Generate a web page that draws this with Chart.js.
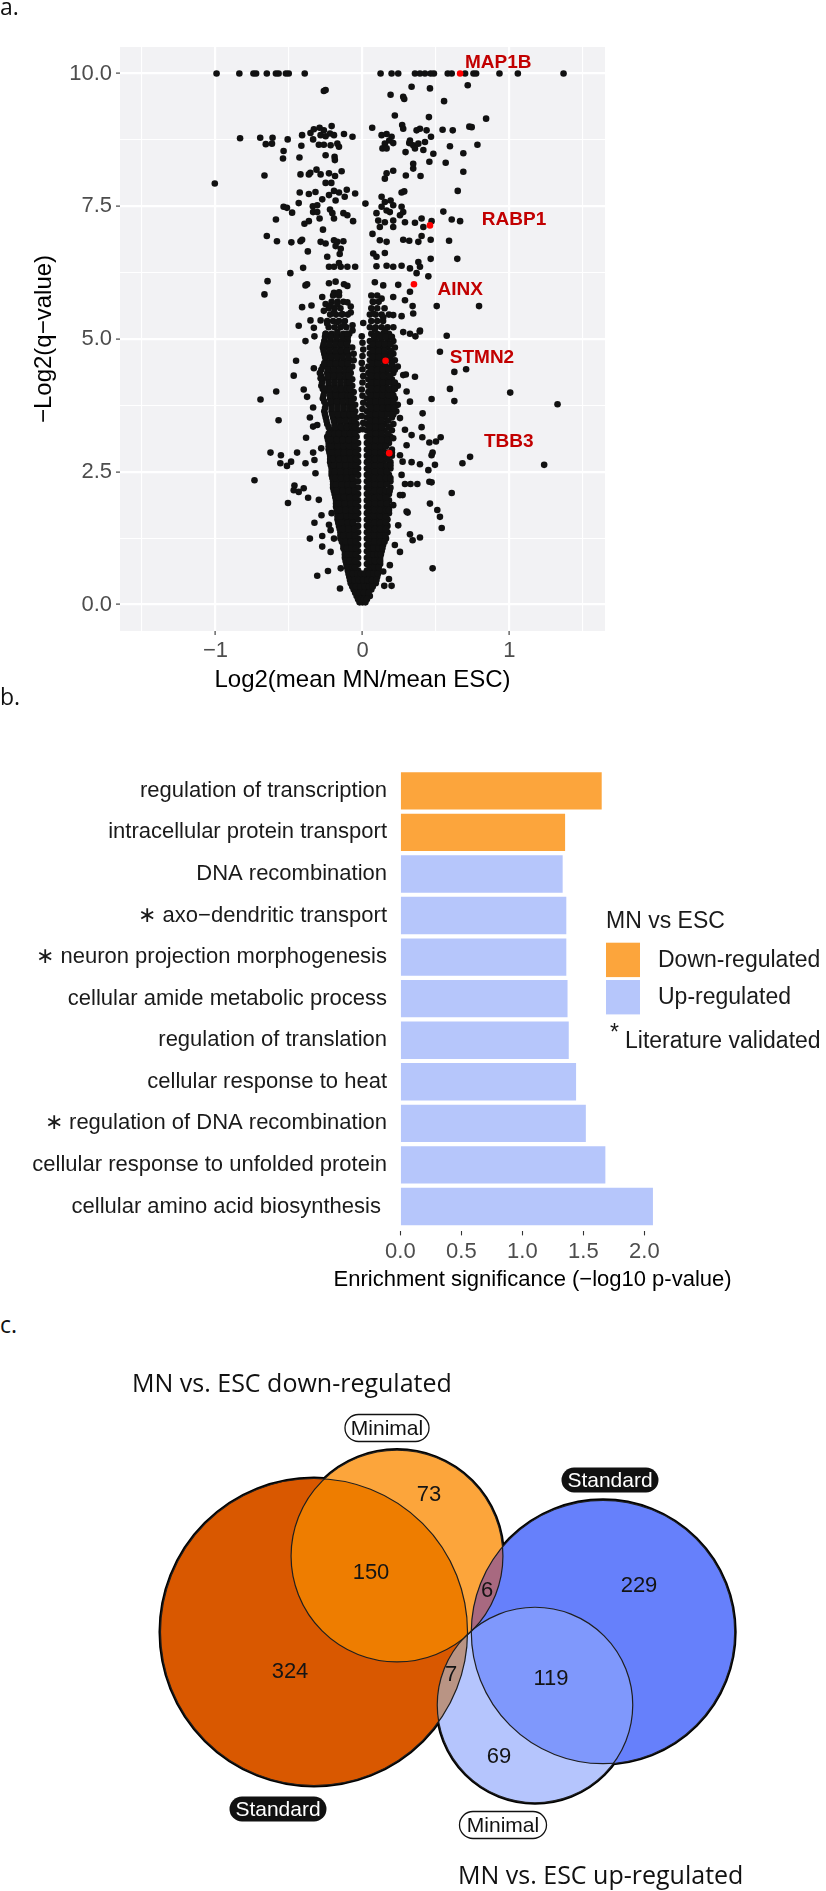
<!DOCTYPE html>
<html>
<head>
<meta charset="utf-8">
<script src="https://cdn.jsdelivr.net/npm/chart.js@4.4.0/dist/chart.umd.min.js"></script>
<style>
  body { margin: 0; background: #fff; }
  #page { position: relative; width: 826px; height: 1891px; overflow: hidden; background: #fff; }
  canvas { position: absolute; }
  .tag { position: absolute; font-family: 'Open Sans', sans-serif; font-size: 23px; line-height: 1; color: #111; }
  .vtitle { position: absolute; font-family: 'Open Sans', sans-serif; font-size: 25px; line-height: 1; color: #111; white-space: nowrap; }
</style>
</head>
<body>
<div id="page">
  <canvas id="volcano" width="620" height="700" style="left:0;top:0"></canvas>
  <canvas id="goBars" width="826" height="600" style="left:0;top:700px"></canvas>
  <canvas id="venn" width="826" height="551" style="left:0;top:1340px"></canvas>
  <div class="tag" style="left:0;top:-5px">a.</div>
  <div class="tag" style="left:0;top:685px">b.</div>
  <div class="tag" style="left:0;top:1313px">c.</div>
  <div class="vtitle" style="left:132px;top:1370px">MN vs. ESC down-regulated</div>
  <div class="vtitle" style="left:458px;top:1862px">MN vs. ESC up-regulated</div>
</div>
<script>
/* ===============================
   Data
================================ */
// a. volcano: axis ticks
const xMajor = [-1, 0, 1];
const xMinor = [-1.5, -0.5, 0.5, 1.5];
const yMajor = [0, 2.5, 5, 7.5, 10];
const yMinor = [1.25, 3.75, 6.25, 8.75];

// highlighted genes (red points) and where their names sit
const geneNames = ["MAP1B", "RABP1", "AINX", "STMN2", "TBB3"];
const geneX = [0.664, 0.459, 0.350, 0.157, 0.182];
const geneY = [10.0, 7.14, 6.03, 4.59, 2.85];
const geneLabelX = [0.924, 1.031, 0.665, 0.813, 0.995];
const geneLabelY = [10.2, 7.25, 5.93, 4.65, 3.07];

// dense core of the volcano, read row by row: [y, x values]
const coreRows = [
  [0.04, [-0.02, 0, 0.02]],
  [0.16, [-0.04, -0.01, 0.02, 0.05]],
  [0.28, [-0.06, -0.03, 0, 0.03, 0.06]],
  [0.40, [-0.08, -0.05, -0.02, 0.01, 0.04, 0.07, 0.09]],
  [0.52, [-0.09, -0.06, -0.03, 0, 0.03, 0.06, 0.10]],
  [0.64, [-0.10, -0.07, -0.03, 0.03, 0.06, 0.09, 0.11]],
  [0.76, [-0.11, -0.07, -0.03, 0.03, 0.07, 0.10, 0.12]],
  [0.88, [-0.12, -0.08, -0.05, -0.03, 0.03, 0.06, 0.09, 0.12]],
  [1.00, [-0.12, -0.09, -0.06, -0.03, 0.03, 0.06, 0.09, 0.13]],
  [1.12, [-0.13, -0.10, -0.06, -0.03, 0.03, 0.06, 0.10, 0.14]],
  [1.24, [-0.15, -0.11, -0.07, -0.03, 0.03, 0.06, 0.10, 0.13, 0.16]],
  [1.36, [-0.15, -0.11, -0.07, -0.03, 0.03, 0.07, 0.10, 0.14, 0.17]],
  [1.48, [-0.16, -0.12, -0.08, -0.05, -0.03, 0.03, 0.06, 0.10, 0.14, 0.17]],
  [1.60, [-0.17, -0.13, -0.09, -0.06, -0.03, 0.03, 0.06, 0.10, 0.14, 0.17]],
  [1.72, [-0.17, -0.13, -0.09, -0.06, -0.03, 0.03, 0.06, 0.10, 0.14, 0.18]],
  [1.84, [-0.18, -0.14, -0.10, -0.06, -0.03, 0.03, 0.06, 0.10, 0.14, 0.18]],
  [1.96, [-0.18, -0.14, -0.10, -0.06, -0.03, 0.03, 0.07, 0.11, 0.15, 0.18]],
  [2.08, [-0.19, -0.15, -0.11, -0.07, -0.03, 0.03, 0.06, 0.10, 0.14, 0.18]],
  [2.20, [-0.20, -0.16, -0.12, -0.08, -0.05, -0.03, 0.03, 0.06, 0.10, 0.14, 0.19]],
  [2.32, [-0.20, -0.16, -0.12, -0.08, -0.05, -0.03, 0.03, 0.07, 0.11, 0.15, 0.19]],
  [2.44, [-0.21, -0.17, -0.13, -0.09, -0.06, -0.03, 0.03, 0.06, 0.10, 0.14, 0.18]],
  [2.56, [-0.21, -0.17, -0.13, -0.09, -0.06, -0.03, 0.03, 0.07, 0.11, 0.15, 0.19]],
  [2.68, [-0.22, -0.18, -0.14, -0.10, -0.06, -0.03, 0.03, 0.06, 0.10, 0.14, 0.19]],
  [2.80, [-0.22, -0.18, -0.14, -0.10, -0.06, -0.03, 0.03, 0.07, 0.11, 0.15, 0.20]],
  [2.92, [-0.23, -0.19, -0.15, -0.11, -0.07, -0.03, 0.03, 0.06, 0.10, 0.14, 0.20]],
  [3.04, [-0.23, -0.19, -0.15, -0.11, -0.07, -0.03, 0.03, 0.07, 0.11, 0.15, 0.18]],
  [3.16, [-0.24, -0.20, -0.16, -0.12, -0.08, -0.04, 0.03, 0.07, 0.11, 0.15, 0.19]],
  [3.28, [-0.22, -0.18, -0.14, -0.10, -0.07, -0.03, 0.03, 0.07, 0.11, 0.15, 0.20]],
  [3.40, [-0.24, -0.19, -0.15, -0.11, -0.07, -0.04, 0.03, 0.07, 0.11, 0.15, 0.21]],
  [3.52, [-0.25, -0.20, -0.16, -0.12, -0.08, -0.04, 0.03, 0.07, 0.11, 0.15, 0.20]],
  [3.64, [-0.26, -0.21, -0.17, -0.13, -0.09, -0.05, 0.03, 0.07, 0.11, 0.15, 0.19, 0.23]],
  [3.76, [-0.25, -0.21, -0.17, -0.13, -0.09, -0.05, 0.04, 0.08, 0.12, 0.16, 0.20, 0.24]],
  [3.88, [-0.27, -0.22, -0.18, -0.14, -0.10, -0.06, 0.03, 0.07, 0.11, 0.15, 0.19, 0.22]],
  [4.00, [-0.26, -0.22, -0.18, -0.14, -0.10, -0.06, 0.04, 0.08, 0.12, 0.16, 0.20]],
  [4.12, [-0.28, -0.23, -0.19, -0.15, -0.11, -0.07, 0.04, 0.08, 0.12, 0.16, 0.21, 0.24]],
  [4.24, [-0.27, -0.23, -0.19, -0.15, -0.11, -0.07, 0.04, 0.08, 0.12, 0.16, 0.20]],
  [4.36, [-0.29, -0.24, -0.20, -0.16, -0.12, -0.08, 0.04, 0.08, 0.12, 0.16, 0.21]],
  [4.48, [-0.27, -0.23, -0.19, -0.15, -0.11, -0.07, 0.04, 0.08, 0.12, 0.16, 0.20, 0.24]],
  [4.60, [-0.25, -0.21, -0.17, -0.13, -0.09, -0.06, 0.05, 0.09, 0.13, 0.18, 0.22]],
  [4.72, [-0.26, -0.22, -0.18, -0.14, -0.10, -0.06, 0.05, 0.09, 0.13, 0.17, 0.21]],
  [4.84, [-0.27, -0.23, -0.19, -0.15, -0.11, -0.07, 0.05, 0.09, 0.13, 0.17, 0.22]],
  [4.96, [-0.26, -0.22, -0.18, -0.14, -0.10, 0.05, 0.09, 0.13, 0.17, 0.21]],
  [5.10, [-0.25, -0.21, -0.17, -0.13, -0.09, 0.06, 0.10, 0.14, 0.18]],
  [5.22, [-0.23, -0.19, -0.15, -0.11, 0.05, 0.09, 0.13, 0.17, 0.21]],
  [5.34, [-0.24, -0.20, -0.16, -0.12, 0.06, 0.10, 0.14]],
  [5.46, [-0.22, -0.18, -0.14, -0.10, 0.05, 0.09, 0.13, 0.18]],
  [5.58, [-0.23, -0.19, -0.15, 0.06, 0.10, 0.15]],
  [5.70, [-0.21, -0.17, -0.13, 0.07, 0.11]],
  [5.82, [-0.20, -0.16, 0.06, 0.10]],
];

// second pass over the core, between the rows above
const coreRowsB = [
  [0.10, [-0.03, -0.01, 0.01, 0.03]],
  [0.22, [-0.05, -0.02, 0.01, 0.04]],
  [0.34, [-0.07, -0.045, -0.015, 0.015, 0.045, 0.07]],
  [0.46, [-0.085, -0.055, -0.025, 0.005, 0.035, 0.065, 0.095]],
  [0.58, [-0.095, -0.065, -0.035, -0.01, 0.015, 0.045, 0.075, 0.105]],
  [0.70, [-0.105, -0.07, -0.05, 0.05, 0.08, 0.11]],
  [0.82, [-0.115, -0.09, -0.05, 0.05, 0.085, 0.12]],
  [0.94, [-0.12, -0.10, -0.07, -0.045, 0.045, 0.075, 0.105, 0.125]],
  [1.06, [-0.13, -0.105, -0.075, -0.045, 0.045, 0.075, 0.11, 0.135]],
  [1.18, [-0.14, -0.115, -0.08, -0.045, 0.045, 0.08, 0.12, 0.15]],
  [1.30, [-0.15, -0.13, -0.09, -0.05, 0.045, 0.08, 0.12, 0.155]],
  [1.42, [-0.155, -0.135, -0.095, -0.055, 0.045, 0.085, 0.12, 0.16]],
  [1.54, [-0.165, -0.14, -0.10, -0.065, 0.045, 0.08, 0.12, 0.16]],
  [1.66, [-0.17, -0.15, -0.11, -0.075, -0.045, 0.045, 0.08, 0.12, 0.16]],
  [1.78, [-0.175, -0.155, -0.115, -0.075, -0.045, 0.045, 0.08, 0.12, 0.16, 0.18]],
  [1.90, [-0.18, -0.16, -0.12, -0.08, -0.045, 0.045, 0.085, 0.125, 0.165]],
  [2.02, [-0.185, -0.165, -0.125, -0.085, -0.045, 0.045, 0.085, 0.12, 0.16]],
  [2.14, [-0.195, -0.175, -0.135, -0.095, -0.055, 0.045, 0.08, 0.12, 0.16, 0.185]],
  [2.26, [-0.20, -0.18, -0.14, -0.10, -0.065, 0.045, 0.085, 0.125, 0.165]],
  [2.38, [-0.205, -0.185, -0.145, -0.105, -0.07, 0.045, 0.08, 0.12, 0.16, 0.19]],
  [2.50, [-0.21, -0.19, -0.15, -0.11, -0.075, -0.045, 0.045, 0.085, 0.125, 0.165]],
  [2.62, [-0.215, -0.195, -0.155, -0.115, -0.075, -0.045, 0.045, 0.085, 0.125, 0.165, 0.19]],
  [2.74, [-0.22, -0.20, -0.16, -0.12, -0.08, -0.045, 0.045, 0.085, 0.125, 0.17]],
  [2.86, [-0.225, -0.205, -0.165, -0.125, -0.085, -0.045, 0.045, 0.085, 0.125, 0.17, 0.20]],
  [2.98, [-0.23, -0.21, -0.17, -0.13, -0.09, -0.05, 0.045, 0.085, 0.125, 0.16]],
  [3.10, [-0.235, -0.215, -0.175, -0.135, -0.095, -0.055, 0.05, 0.09, 0.13, 0.17]],
  [3.22, [-0.23, -0.19, -0.16, -0.12, -0.085, -0.05, 0.05, 0.09, 0.13, 0.175]],
  [3.34, [-0.23, -0.185, -0.145, -0.105, -0.07, -0.05, 0.05, 0.09, 0.13, 0.18]],
  [3.46, [-0.245, -0.195, -0.155, -0.115, -0.075, -0.055, 0.05, 0.09, 0.13, 0.175]],
  [3.58, [-0.255, -0.205, -0.165, -0.125, -0.085, -0.06, 0.05, 0.09, 0.13, 0.17, 0.21]],
  [3.70, [-0.255, -0.21, -0.17, -0.13, -0.09, -0.07, 0.055, 0.095, 0.135, 0.175, 0.215]],
  [3.82, [-0.26, -0.215, -0.175, -0.135, -0.095, -0.075, 0.05, 0.09, 0.13, 0.17, 0.21]],
  [3.94, [-0.265, -0.22, -0.18, -0.14, -0.10, -0.08, 0.055, 0.095, 0.135, 0.175, 0.21]],
  [4.06, [-0.27, -0.225, -0.185, -0.145, -0.105, -0.085, 0.06, 0.10, 0.14, 0.18, 0.22]],
  [4.18, [-0.275, -0.23, -0.19, -0.15, -0.11, -0.09, 0.06, 0.10, 0.14, 0.18, 0.22]],
  [4.30, [-0.28, -0.235, -0.195, -0.155, -0.115, -0.095, 0.06, 0.10, 0.14, 0.185]],
  [4.42, [-0.28, -0.235, -0.195, -0.155, -0.115, -0.09, 0.06, 0.10, 0.14, 0.18, 0.22]],
  [4.54, [-0.26, -0.22, -0.18, -0.14, -0.10, 0.065, 0.105, 0.15, 0.20]],
  [4.66, [-0.255, -0.215, -0.175, -0.135, -0.095, 0.07, 0.11, 0.15, 0.19]],
  [4.78, [-0.265, -0.225, -0.185, -0.145, -0.105, 0.07, 0.11, 0.15, 0.195]],
  [4.90, [-0.265, -0.225, -0.185, -0.145, -0.105, 0.07, 0.11, 0.15, 0.19]],
  [5.04, [-0.255, -0.215, -0.175, -0.135, -0.10, 0.08, 0.12, 0.16, 0.20]],
];

// scattered proteins outside the core: [x, y]
const scatterPts = [
  // y = 10 ceiling, left
  [-0.993, 10], [-0.838, 10], [-0.742, 10], [-0.724, 10], [-0.651, 10], [-0.589, 10], [-0.571, 10], [-0.521, 10], [-0.502, 10], [-0.393, 10],
  [-0.263, 9.67], [-0.251, 9.69],
  [-0.833, 8.78], [-0.696, 8.79], [-0.612, 8.79], [-0.658, 8.67], [-0.616, 8.68], [-0.509, 8.76], [-0.411, 8.84], [-0.416, 8.64], [-0.537, 8.54], [-0.541, 8.40], [-0.429, 8.42],
  [-0.354, 8.88], [-0.331, 8.95], [-0.292, 8.98], [-0.263, 8.93], [-0.210, 9.01], [-0.285, 8.84], [-0.251, 8.82], [-0.221, 8.87], [-0.194, 8.84], [-0.336, 8.76], [-0.297, 8.66], [-0.263, 8.66], [-0.217, 8.65], [-0.171, 8.68], [-0.160, 8.62], [-0.126, 8.86], [-0.068, 8.81],
  [-0.251, 8.46], [-0.190, 8.43], [-0.188, 8.37],
  [-0.667, 8.08], [-0.422, 8.10], [-0.365, 8.10], [-0.355, 8.13], [-0.313, 8.19], [-0.285, 8.10], [-0.228, 8.12], [-0.187, 8.07], [-0.142, 8.16], [-0.251, 7.94], [-0.212, 7.94],
  [-1.005, 7.93],
  [-0.427, 7.76], [-0.365, 7.73], [-0.320, 7.77], [-0.274, 7.63], [-0.228, 7.71], [-0.194, 7.79], [-0.160, 7.76], [-0.107, 7.81], [-0.050, 7.74], [-0.121, 7.68], [-0.183, 7.61],
  [-0.434, 7.56], [-0.537, 7.49], [-0.514, 7.47], [-0.479, 7.38], [-0.338, 7.50], [-0.308, 7.52], [-0.336, 7.39], [-0.308, 7.39], [-0.221, 7.44], [-0.205, 7.37], [-0.194, 7.27], [-0.130, 7.37], [-0.103, 7.33], [-0.064, 7.22],
  [-0.589, 7.25], [-0.395, 7.17], [-0.365, 7.22], [-0.292, 7.27], [-0.269, 7.06],
  [-0.651, 6.94], [-0.582, 6.84], [-0.484, 6.82], [-0.422, 6.84], [-0.411, 6.87], [-0.372, 6.65], [-0.285, 6.83], [-0.251, 6.80], [-0.194, 6.86], [-0.171, 6.83], [-0.130, 6.84], [-0.183, 6.75], [-0.148, 6.70],
  [-0.240, 6.55], [-0.155, 6.60],
  [-0.491, 6.24], [-0.404, 6.34], [-0.228, 6.36], [-0.194, 6.36], [-0.148, 6.36], [-0.103, 6.36], [-0.050, 6.36], [-0.160, 6.43],
  [-0.646, 6.09], [-0.667, 5.84], [-0.388, 6.01], [-0.377, 6.03], [-0.228, 6.05], [-0.183, 6.08], [-0.126, 6.03], [-0.103, 6.00], [-0.194, 5.87], [-0.160, 5.88],
  [-0.274, 5.79], [-0.411, 5.60], [-0.347, 5.63], [-0.251, 5.66], [-0.217, 5.63], [-0.171, 5.66], [-0.103, 5.69], [-0.080, 5.61], [-0.263, 5.53], [-0.194, 5.50], [-0.137, 5.47], [-0.080, 5.50],
  [-0.354, 5.35], [-0.331, 5.21], [-0.434, 5.25], [-0.285, 5.35], [-0.240, 5.29], [-0.171, 5.32], [-0.126, 5.26], [-0.068, 5.26], [-0.251, 5.10], [-0.171, 5.13], [-0.103, 5.10], [-0.068, 5.16], [-0.327, 5.05], [-0.388, 4.96],
  // y = 10 ceiling, right
  [0.123, 10], [0.198, 10], [0.243, 10], [0.357, 10], [0.391, 10], [0.425, 10], [0.464, 10], [0.486, 10], [0.580, 10], [0.607, 10], [0.698, 10], [0.755, 10], [0.773, 10], [0.932, 10], [1.057, 10], [1.368, 10],
  [0.716, 9.78], [0.334, 9.75], [0.459, 9.72], [0.191, 9.60], [0.277, 9.56], [0.284, 9.52], [0.555, 9.48],
  [0.220, 9.21], [0.452, 9.18], [0.841, 9.15],
  [0.066, 8.98], [0.270, 9.03], [0.277, 8.96], [0.391, 8.96], [0.368, 8.93], [0.436, 8.93], [0.545, 8.94], [0.614, 8.93], [0.727, 9.00], [0.743, 8.99],
  [0.130, 8.84], [0.164, 8.86], [0.198, 8.81], [0.182, 8.74], [0.152, 8.68], [0.209, 8.69], [0.136, 8.59], [0.164, 8.59],
  [0.323, 8.74], [0.345, 8.65], [0.380, 8.68], [0.425, 8.71], [0.466, 8.81], [0.357, 8.59], [0.414, 8.56], [0.318, 8.69],
  [0.595, 8.63], [0.782, 8.66], [0.686, 8.50], [0.482, 8.49], [0.293, 8.52], [0.455, 8.34], [0.566, 8.32], [0.345, 8.30], [0.345, 8.21],
  [0.164, 8.12], [0.209, 8.17], [0.152, 8.02], [0.295, 8.08], [0.395, 8.07], [0.686, 8.15],
  [0.648, 7.79], [0.266, 7.76], [0.284, 7.78],
  [0.020, 7.55], [0.130, 7.68], [0.152, 7.58], [0.191, 7.61], [0.209, 7.52], [0.164, 7.42], [0.130, 7.49], [0.186, 7.39], [0.266, 7.49], [0.277, 7.39], [0.255, 7.33],
  [0.095, 7.37], [0.107, 7.23], [0.152, 7.20], [0.209, 7.23], [0.118, 7.11], [0.209, 7.11], [0.289, 7.20], [0.357, 7.19], [0.402, 7.27], [0.414, 7.11], [0.470, 7.22], [0.550, 7.40], [0.607, 7.25], [0.664, 7.22],
  [0.068, 6.98], [0.118, 6.86], [0.164, 6.83], [0.277, 6.87], [0.318, 6.85], [0.380, 6.83], [0.402, 6.94], [0.464, 6.87], [0.589, 6.85], [0.073, 6.61], [0.152, 6.62], [0.095, 6.55],
  [0.464, 6.51], [0.645, 6.51], [0.380, 6.45],
  [0.095, 6.37], [0.164, 6.38], [0.209, 6.36], [0.266, 6.38], [0.323, 6.33], [0.391, 6.36], [0.368, 6.24], [0.448, 6.18],
  [0.084, 6.07], [0.141, 6.01], [0.243, 6.02], [0.323, 5.89],
  [0.073, 5.70], [0.130, 5.76], [0.209, 5.79], [0.289, 5.73], [0.341, 5.62], [0.505, 5.62], [0.793, 5.62],
  [0.073, 5.48], [0.141, 5.41], [0.209, 5.45], [0.266, 5.43], [0.345, 5.48], [0.391, 5.16], [0.323, 5.10], [0.573, 5.06], [0.277, 5.13], [0.152, 5.16], [0.084, 5.19], [0.360, 5.05], [0.390, 5.14],
  // along the middle of the upper core
  [0.0, 3.30], [0.005, 3.42], [-0.005, 3.55], [0.0, 3.68], [0.005, 3.80], [0.0, 3.93], [-0.005, 4.05], [0.0, 4.18], [0.005, 4.30], [0.0, 4.43],
  [-0.005, 4.55], [0.0, 4.68], [0.005, 4.80], [0.0, 4.93], [-0.005, 5.05], [0.005, 5.30],
  // lower left
  [-0.452, 4.59], [-0.468, 4.31], [-0.331, 4.45], [-0.587, 4.01], [-0.694, 3.86], [-0.400, 4.05], [-0.377, 3.91], [-0.571, 3.47], [-0.336, 3.71], [-0.358, 3.52], [-0.336, 3.35], [-0.384, 3.14],
  [-0.626, 2.86], [-0.555, 2.81], [-0.559, 2.66], [-0.514, 2.61], [-0.486, 2.69], [-0.445, 2.86], [-0.388, 2.66], [-0.336, 2.86], [-0.327, 2.72], [-0.735, 2.34],
  [-0.463, 2.24], [-0.468, 2.15], [-0.434, 2.12], [-0.400, 2.19], [-0.507, 1.91], [-0.320, 2.47], [-0.370, 2.01], [-0.327, 1.54], [-0.358, 1.24], [-0.274, 1.29], [-0.274, 1.09],
  [-0.217, 0.99], [-0.308, 0.54], [-0.235, 0.63], [-0.153, 0.30],
  [-0.297, 1.97], [-0.279, 1.68], [-0.210, 1.72], [-0.228, 1.50], [-0.194, 1.24], [-0.148, 0.68], [-0.217, 1.40], [-0.285, 4.26], [-0.263, 4.07], [-0.308, 3.38], [-0.281, 2.94],
  // lower right
  [0.527, 4.76], [0.625, 4.38], [0.705, 4.43], [0.357, 4.29], [0.295, 4.33], [0.595, 4.06], [1.005, 3.99], [0.470, 3.87], [0.625, 3.83], [1.327, 3.77],
  [0.409, 3.60], [0.402, 3.34], [0.334, 3.19], [0.407, 3.15], [0.455, 3.05], [0.500, 3.07], [0.532, 3.15], [0.470, 2.81], [0.477, 2.86], [0.732, 2.78], [0.680, 2.66], [1.236, 2.63],
  [0.493, 2.63], [0.391, 2.64], [0.334, 2.68], [0.273, 2.69], [0.266, 2.44], [0.448, 2.53], [0.255, 2.81], [0.455, 2.31], [0.470, 2.30], [0.289, 2.27], [0.327, 2.27], [0.373, 2.27],
  [0.607, 2.10], [0.273, 2.06], [0.459, 1.90], [0.509, 1.78], [0.527, 1.65], [0.539, 1.44], [0.307, 1.73], [0.323, 1.32], [0.341, 1.21], [0.391, 1.26], [0.477, 0.68],
  [0.180, 0.48], [0.148, 0.35], [0.198, 0.35],
  [0.277, 4.32], [0.300, 4.01], [0.323, 3.82], [0.255, 3.51], [0.289, 3.29], [0.209, 3.13], [0.300, 3.00], [0.255, 2.06], [0.209, 1.87], [0.300, 1.75], [0.243, 1.49], [0.220, 1.12], [0.255, 0.99], [0.186, 0.74], [0.141, 0.62],
];

// b. GO enrichment
const goTerms = [
  "regulation of transcription",
  "intracellular protein transport",
  "DNA recombination",
  "axo−dendritic transport",
  "neuron projection morphogenesis",
  "cellular amide metabolic process",
  "regulation of translation",
  "cellular response to heat",
  "regulation of DNA recombination",
  "cellular response to unfolded protein",
  "cellular amino acid biosynthesis ",
];
const goScore = [1.65, 1.35, 1.33, 1.36, 1.36, 1.37, 1.38, 1.44, 1.52, 1.68, 2.07];
const goDirection = ["Down", "Down", "Up", "Up", "Up", "Up", "Up", "Up", "Up", "Up", "Up"];
const goValidated = [false, false, false, true, true, false, false, false, true, false, false];
const goTicks = [0, 0.5, 1, 1.5, 2];
const dirNames = ["Down", "Up"];
const dirLabels = ["Down-regulated", "Up-regulated"];
const dirColors = ["#FCA53C", "#B6C6FB"];

// c. Venn: sets and region counts
const vennSets = ["Standard down", "Minimal down", "Standard up", "Minimal up"];
const vennSetTag = ["Standard", "Minimal", "Standard", "Minimal"];
const vennColors = ["#D95800", "#FCA53B", "#6680FB", "#B5C5FD"];
const regionCounts = [324, 150, 73, 6, 7, 229, 119, 69];
const regionSets = [[0], [0, 1], [1], [1, 2], [0, 3], [2], [2, 3], [3]];

/* ===============================
   Layout (page pixels, not data)
================================ */
const vennCenters = [[314, 292], [397, 216], [603, 292], [535, 365]];
const vennAreaScale = 7.0; // radius per sqrt(count)
const regionPos = [[290, 332], [371, 233], [429, 155], [487, 251], [451, 335], [639, 246], [551, 339], [499, 417]];
const tagPos = [[278, 469, 97, 25], [387, 88, 84, 27], [610, 140, 97, 25], [503, 485, 87, 27]];
const overlapFill = [[0, 1, "#EE7D00"], [2, 3, "#7F98FC"], [1, 2, "#A86980"], [0, 3, "#B99484"]];

Chart.defaults.font.family = "'Liberation Sans', Arial, Helvetica, sans-serif";
Chart.defaults.color = "#1a1a1a";

/* ===============================
   a. Volcano plot
================================ */
const blackPts = [];
coreRows.concat(coreRowsB).forEach(([y, xs]) => xs.forEach((x) => blackPts.push({ x, y })));
scatterPts.forEach(([x, y]) => blackPts.push({ x, y }));

const panelBg = {
  id: "panelBg",
  beforeDraw(chart) {
    const { ctx, chartArea: a } = chart;
    ctx.save();
    ctx.fillStyle = "#F2F2F4";
    ctx.fillRect(a.left, a.top, a.right - a.left, a.bottom - a.top);
    ctx.restore();
  },
};

const geneLabels = {
  id: "geneLabels",
  afterDatasetsDraw(chart) {
    const { ctx, scales } = chart;
    ctx.save();
    ctx.fillStyle = "#C20000";
    ctx.font = "bold 19px 'Liberation Sans', Arial, sans-serif";
    ctx.textAlign = "center";
    ctx.textBaseline = "middle";
    geneNames.forEach((g, i) => {
      ctx.fillText(g, scales.x.getPixelForValue(geneLabelX[i]), scales.y.getPixelForValue(geneLabelY[i]));
    });
    ctx.restore();
  },
};

const fmtSigned = (v) => (v < 0 ? "\u2212" + Math.abs(v) : String(v));

function gridStyle(major) {
  return {
    color: "#ffffff",
    lineWidth: (c) => (major.includes(c.tick.value) ? 2.2 : 1.1),
    tickColor: (c) => (major.includes(c.tick.value) ? "#333333" : "rgba(0,0,0,0)"),
    tickLength: 4,
    tickWidth: 1.1,
  };
}

new Chart(document.getElementById("volcano"), {
  type: "scatter",
  data: {
    datasets: [
      {
        data: geneX.map((x, i) => ({ x, y: geneY[i] })),
        pointBackgroundColor: "#FF0000",
        pointBorderWidth: 0,
        pointRadius: 3.3,
      },
      {
        data: blackPts,
        pointBackgroundColor: "#111111",
        pointBorderWidth: 0,
        pointRadius: 3.3,
      },
    ],
  },
  options: {
    responsive: false,
    animation: false,
    events: [],
    layout: { padding: { top: 47, right: 15, left: 0, bottom: 0 } },
    plugins: { legend: { display: false }, tooltip: { enabled: false } },
    scales: {
      x: {
        type: "linear",
        min: -1.65,
        max: 1.65,
        afterBuildTicks: (s) => {
          s.ticks = xMinor.concat(xMajor).sort((a, b) => a - b).map((v) => ({ value: v }));
        },
        afterFit: (s) => { s.height = 69; },
        grid: gridStyle(xMajor),
        border: { display: false },
        ticks: {
          autoSkip: false,
          maxRotation: 0,
          padding: 3,
          color: "#4D4D4D",
          font: { size: 22 },
          callback: (v) => (xMajor.includes(v) ? fmtSigned(v) : ""),
        },
        title: { display: true, text: "Log2(mean MN/mean ESC)", color: "#000", font: { size: 24 }, padding: { bottom: 5.6 } },
      },
      y: {
        type: "linear",
        min: -0.5,
        max: 10.5,
        afterBuildTicks: (s) => {
          s.ticks = yMinor.concat(yMajor).sort((a, b) => a - b).map((v) => ({ value: v }));
        },
        afterFit: (s) => { s.width = 120; },
        grid: gridStyle(yMajor),
        border: { display: false },
        ticks: {
          autoSkip: false,
          padding: 4,
          color: "#4D4D4D",
          font: { size: 22 },
          callback: (v) => (yMajor.includes(v) ? v.toFixed(1) : ""),
        },
        title: { display: true, text: "\u2212Log2(q\u2212value)", color: "#000", font: { size: 24 }, padding: { top: 29.6 } },
      },
    },
  },
  plugins: [panelBg, geneLabels],
});

/* ===============================
   b. GO enrichment bars
================================ */
const goLegend = {
  id: "goLegend",
  afterDraw(chart) {
    const ctx = chart.ctx;
    const sx = chart.scales.x;
    ctx.save();
    // axis title, wider than the plotting area
    ctx.fillStyle = "#000";
    ctx.font = "22px 'Liberation Sans', Arial, sans-serif";
    ctx.textAlign = "center";
    ctx.textBaseline = "middle";
    ctx.fillText("Enrichment significance (\u2212log10 p-value)", (sx.left + sx.right) / 2 + 1, 580);

    ctx.textAlign = "left";
    ctx.fillStyle = "#1a1a1a";
    ctx.font = "23px 'Liberation Sans', Arial, sans-serif";
    ctx.fillText("MN vs ESC", 606, 222);
    const keyTop = [242.7, 280];
    dirNames.forEach((d, i) => {
      ctx.fillStyle = dirColors[i];
      ctx.fillRect(606, keyTop[i], 34, 34.4);
      ctx.fillStyle = "#1a1a1a";
      ctx.fillText(dirLabels[i], 658, keyTop[i] + 18);
    });
    ctx.textBaseline = "alphabetic";
    ctx.fillText("*", 610, 340);
    ctx.textBaseline = "middle";
    ctx.fillText("Literature validated", 625, 342);
    ctx.restore();
  },
};

new Chart(document.getElementById("goBars"), {
  type: "bar",
  data: {
    datasets: [
      {
        data: goScore.map((v, i) => ({ x: v, y: i })),
        backgroundColor: goDirection.map((d) => dirColors[dirNames.indexOf(d)]),
        borderWidth: 0,
        barPercentage: 0.9,
        categoryPercentage: 1,
      },
    ],
  },
  options: {
    indexAxis: "y",
    responsive: false,
    animation: false,
    events: [],
    layout: { padding: { top: 65.9, right: 163.3, left: 0, bottom: 0 } },
    plugins: { legend: { display: false }, tooltip: { enabled: false } },
    scales: {
      y: {
        type: "linear",
        min: -0.6,
        max: 10.6,
        reverse: true,
        offset: false,
        afterBuildTicks: (s) => { s.ticks = goTerms.map((t, i) => ({ value: i })); },
        afterFit: (s) => { s.width = 400.4; },
        grid: { display: false, drawTicks: false },
        border: { display: false },
        ticks: {
          autoSkip: false,
          padding: 13.4,
          color: "#1a1a1a",
          font: { size: 22 },
          callback: (v) => (goValidated[v] ? "\u2217 " : "") + goTerms[v],
        },
      },
      x: {
        type: "linear",
        min: 0,
        max: 2.15,
        afterBuildTicks: (s) => { s.ticks = goTicks.map((v) => ({ value: v })); },
        afterFit: (s) => { s.height = 68.6; },
        grid: { drawOnChartArea: false, tickLength: 4, tickColor: "#333333", tickWidth: 1.1 },
        border: { display: false },
        ticks: { padding: 3, color: "#4D4D4D", font: { size: 22 }, callback: (v) => v.toFixed(1) },
      },
    },
  },
  plugins: [goLegend],
});

/* ===============================
   c. Venn diagram
================================ */
const setTotals = vennSets.map((s, k) =>
  regionCounts.reduce((sum, c, r) => sum + (regionSets[r].includes(k) ? c : 0), 0)
);
// circle radius in axis units (1 unit = 1 px on this canvas)
const setRadius = setTotals.map((t) => vennAreaScale * Math.sqrt(t));

function radiusPx(chart, k) {
  const sx = chart.scales.x;
  return sx.getPixelForValue(setRadius[k]) - sx.getPixelForValue(0);
}

function circlePath(chart, ctx, k) {
  const { x: sx, y: sy } = chart.scales;
  ctx.beginPath();
  ctx.arc(sx.getPixelForValue(vennCenters[k][0]), sy.getPixelForValue(vennCenters[k][1]), radiusPx(chart, k), 0, Math.PI * 2);
}

const vennDecor = {
  id: "vennDecor",
  beforeDatasetsDraw(chart) {
    const ctx = chart.ctx;
    ctx.save();
    ctx.strokeStyle = "#000";
    ctx.lineWidth = 4;
    vennSets.forEach((s, k) => { circlePath(chart, ctx, k); ctx.stroke(); });
    ctx.restore();
  },
  afterDatasetsDraw(chart) {
    const ctx = chart.ctx;
    const { x: sx, y: sy } = chart.scales;
    overlapFill.forEach(([a, b, col]) => {
      ctx.save();
      circlePath(chart, ctx, a);
      ctx.clip();
      circlePath(chart, ctx, b);
      ctx.fillStyle = col;
      ctx.fill();
      ctx.restore();
    });
    ctx.save();
    ctx.strokeStyle = "#1e1e1e";
    ctx.lineWidth = 1.2;
    vennSets.forEach((s, k) => { circlePath(chart, ctx, k); ctx.stroke(); });

    ctx.fillStyle = "#141414";
    ctx.font = "22px 'Liberation Sans', Arial, sans-serif";
    ctx.textAlign = "center";
    ctx.textBaseline = "middle";
    regionCounts.forEach((c, r) => {
      ctx.fillText(String(c), sx.getPixelForValue(regionPos[r][0]), sy.getPixelForValue(regionPos[r][1]));
    });

    ctx.font = "21px 'Liberation Sans', Arial, sans-serif";
    vennSetTag.forEach((tag, k) => {
      const [cx, cy, w, h] = tagPos[k];
      const px = sx.getPixelForValue(cx);
      const py = sy.getPixelForValue(cy);
      ctx.beginPath();
      ctx.roundRect(px - w / 2, py - h / 2, w, h, h / 2);
      if (tag === "Standard") {
        ctx.fillStyle = "#111";
        ctx.fill();
        ctx.fillStyle = "#fff";
      } else {
        ctx.fillStyle = "#fff";
        ctx.fill();
        ctx.lineWidth = 1.3;
        ctx.strokeStyle = "#111";
        ctx.stroke();
        ctx.fillStyle = "#111";
      }
      ctx.fillText(tag, px, py + 1);
    });
    ctx.restore();
  },
};

new Chart(document.getElementById("venn"), {
  type: "bubble",
  data: {
    datasets: [
      {
        data: vennCenters.map(([x, y], k) => ({ x, y, r: setRadius[k] })),
        backgroundColor: vennColors,
        borderWidth: 0,
        clip: false,
      },
    ],
  },
  options: {
    responsive: false,
    animation: false,
    events: [],
    layout: { padding: 0, autoPadding: false },
    plugins: { legend: { display: false }, tooltip: { enabled: false } },
    scales: {
      x: { type: "linear", min: 0, max: 826, display: false },
      y: { type: "linear", min: 0, max: 551, reverse: true, display: false },
    },
  },
  plugins: [vennDecor],
});
</script>
</body>
</html>
